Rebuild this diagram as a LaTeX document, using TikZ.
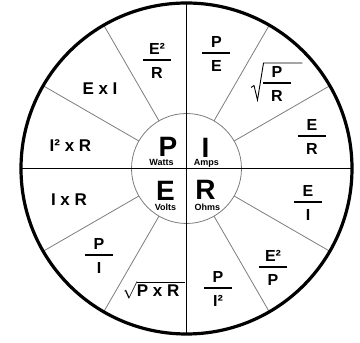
\documentclass[tikz,border=0pt]{standalone}
\usepackage{fontspec}
\setmainfont{Liberation Sans}
\definecolor{spokegray}{HTML}{7D7D7D}
\newcommand{\ohmfrac}[2]{\vbox{\offinterlineskip\halign{\hfil##\hfil\cr#1\cr
  \noalign{\kern4.8pt}\rule{28pt}{1.3pt}\cr\noalign{\kern6.9pt}#2\cr}}}
\tikzset{
  rim/.style={draw=black, line width=3.2pt},
  axisline/.style={draw=black, line width=1.1pt},
  spoke/.style={draw=spokegray, line width=0.8pt},
  hubring/.style={draw=spokegray, line width=0.8pt},
  radical/.style={draw=black, line width=0.9pt, line join=miter},
  formula/.style={inner sep=0pt, anchor=base, font=\bfseries\fontsize{17}{19}\selectfont},
  fracbox/.style={inner sep=0pt, font=\bfseries\fontsize{16}{19}\selectfont},
  qty/.style={inner sep=0pt, anchor=base, font=\bfseries\fontsize{28}{28}\selectfont},
  unitlbl/.style={inner sep=0pt, anchor=base, font=\bfseries\fontsize{9}{9}\selectfont}}

\begin{document}
\begin{tikzpicture}[x=1pt, y=1pt]
  \useasboundingbox (0,0) rectangle (360,343);
  \begin{scope}[shift={(186.5,174.5)}]
    \draw[hubring] (0,0) circle[radius=55pt];
    \foreach \a in {30,60,120,150,210,240,300,330}
      \draw[spoke] (\a:55pt) -- (\a:165.5pt);
    \draw[axisline] (-165.5,0) -- (165.5,0);
    \draw[axisline] (0,-165.5) -- (0,165.5);
    \draw[rim] (0,0) circle[radius=165.5pt];

    \node[qty] (P) at (-18.5,11.5) {P};
    \node[unitlbl] (watts) at (-25,2.5) {Watts};
    \node[qty] (I) at (19,10.5) {I};
    \node[unitlbl] (amps) at (20,2.5) {Amps};
    \node[qty] (E) at (-21,-32.5) {E};
    \node[unitlbl] (volts) at (-21,-42.5) {Volts};
    \node[qty] (R) at (19,-31.5) {R};
    \node[unitlbl] (ohms) at (21,-42.5) {Ohms};

    \node[fracbox] (E2R) at (-29.5,107.5) {\ohmfrac{E²}{R}};
    \node[formula] (EI) at (-86.5,73.5) {E x I};
    \node[formula] (I2R) at (-116,16.5) {I² x R};
    \node[formula] (IR) at (-117.5,-37.5) {I x R};
    \node[fracbox] (PoverI) at (-87.5,-87.5) {\ohmfrac{P}{I}};
    \node[formula] (sqrtPR) at (-32.5,-128.5) {$\sqrt{\hbox{P x R\hspace{6pt}}}$};
    \node[fracbox] (PI2) at (31.5,-120.5) {\ohmfrac{P}{I²}};
    \node[fracbox] (E2P) at (86.5,-99.5) {\ohmfrac{E²}{P}};
    \node[fracbox] (EoverI) at (121.5,-34.5) {\ohmfrac{E}{I}};
    \node[fracbox] (ER) at (125.5,31.5) {\ohmfrac{E}{R}};
    \node[fracbox] (PoverR) at (90.5,84.5) {\ohmfrac{P}{R}};
    \draw[radical] (64.5,81) -- (67.5,83) -- (71,68.5) -- (77,105.5) -- (116,105.5);
    \node[fracbox] (PE) at (30,114.5) {\ohmfrac{P}{E}};
  \end{scope}
\end{tikzpicture}
\end{document}
